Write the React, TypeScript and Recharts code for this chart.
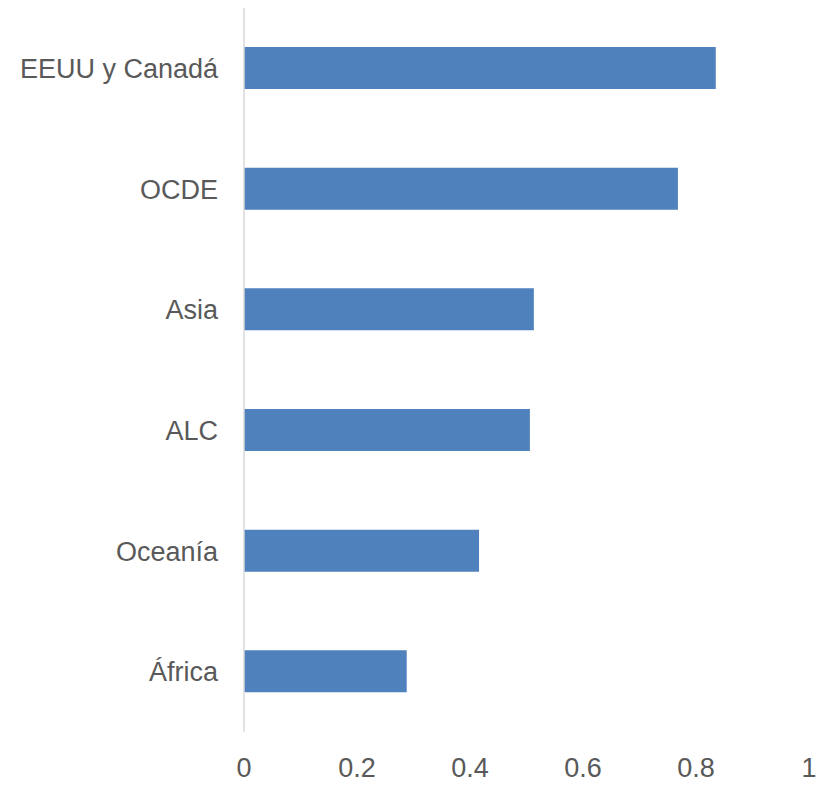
import React from "react";
import { BarChart, Bar, XAxis, YAxis } from "recharts";

const regions = ["EEUU y Canadá", "OCDE", "Asia", "ALC", "Oceanía", "África"];
const values = [0.835, 0.768, 0.513, 0.506, 0.416, 0.288];
const xTicks = [0, 0.2, 0.4, 0.6, 0.8, 1];

const data = regions.map((region, i) => ({ region, value: values[i] }));

const FONT = "'Liberation Sans', Arial, sans-serif";

export default function App() {
    return (
        <div style={{ position: "absolute", left: 0, top: 0, background: "#fff" }}>
            <BarChart
                width={829}
                height={787}
                data={data}
                layout="vertical"
                margin={{ top: 8, right: 20, left: 0, bottom: 0 }}
            >
                <XAxis
                    type="number"
                    domain={[0, 1]}
                    ticks={xTicks}
                    axisLine={false}
                    tickLine={false}
                    tickSize={0}
                    tickMargin={26}
                    height={55}
                    interval={0}
                    tick={{ fontSize: 27, fill: "#595959", fontFamily: FONT }}
                />
                <YAxis
                    type="category"
                    dataKey="region"
                    width={244}
                    axisLine={{ stroke: "#d9d9d9", strokeWidth: 1.5 }}
                    tickLine={false}
                    tickSize={0}
                    tickMargin={26}
                    interval={0}
                    tick={{ fontSize: 27, fill: "#595959", fontFamily: FONT }}
                />
                <Bar dataKey="value" fill="#4f81bd" barSize={42} isAnimationActive={false} />
            </BarChart>
        </div>
    );
}
